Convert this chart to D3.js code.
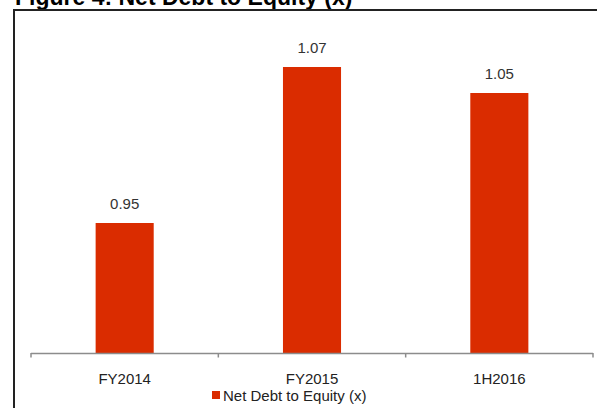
<!DOCTYPE html>
<html>
<head>
<meta charset="utf-8">
<script src="https://cdn.jsdelivr.net/npm/d3@7"></script>
<style>
  html, body { margin: 0; padding: 0; background: #fff; }
  svg { display: block; }
  text { font-family: "Liberation Sans", Arial, sans-serif; }
</style>
</head>
<body>
<script>
const categories = ["FY2014", "FY2015", "1H2016"];
const values = [0.95, 1.07, 1.05];
const valueLabels = ["0.95", "1.07", "1.05"];
const seriesName = "Net Debt to Equity (x)";
const titleText = "Figure 4: Net Debt to Equity (x)";
const yDomain = [0.85, 1.10];

const W = 597, H = 408;
const svg = d3.select("body").append("svg").attr("width", W).attr("height", H);

// title (cut off at top)
svg.append("text").attr("x", 15).attr("y", 5)
  .attr("font-size", 23).attr("font-weight", "bold").attr("fill", "#000")
  .text(titleText);

// frame
svg.append("rect").attr("x", 14).attr("y", 10).attr("width", 700).attr("height", 500)
  .attr("fill", "none").attr("stroke", "#222").attr("stroke-width", 2);

const x = d3.scaleBand().domain(categories).range([31, 593])
  .paddingInner(0.69).paddingOuter(0.345);
const y = d3.scaleLinear().domain(yDomain).range([353, 28]);

const color = "#DA2C00";

svg.selectAll("rect.bar").data(values).enter().append("rect")
  .attr("class", "bar")
  .attr("x", (d, i) => x(categories[i]))
  .attr("width", x.bandwidth())
  .attr("y", d => y(d))
  .attr("height", d => y(yDomain[0]) - y(d))
  .attr("fill", color);

svg.selectAll("text.val").data(values).enter().append("text")
  .attr("class", "val")
  .attr("x", (d, i) => x(categories[i]) + x.bandwidth() / 2)
  .attr("y", d => y(d) - 14)
  .attr("text-anchor", "middle").attr("font-size", 15).attr("fill", "#333")
  .text((d, i) => valueLabels[i]);

// x axis
const y0 = y(yDomain[0]);
svg.append("line").attr("x1", x.range()[0]).attr("x2", x.range()[1])
  .attr("y1", y0 + 0.5).attr("y2", y0 + 0.5)
  .attr("stroke", "#8c8c8c").attr("stroke-width", 1.5);
const tickXs = d3.range(categories.length + 1).map(i => x.range()[0] + i * x.step());
svg.selectAll("line.tick").data(tickXs).enter().append("line")
  .attr("class", "tick")
  .attr("x1", d => d).attr("x2", d => d)
  .attr("y1", y0).attr("y2", y0 + 4.5)
  .attr("stroke", "#8c8c8c").attr("stroke-width", 1.5);

svg.selectAll("text.cat").data(categories).enter().append("text")
  .attr("class", "cat")
  .attr("x", d => x(d) + x.bandwidth() / 2)
  .attr("y", 384)
  .attr("text-anchor", "middle").attr("font-size", 15).attr("fill", "#222")
  .text(d => d);

// legend
const lg = svg.append("g").attr("transform", "translate(212,0)");
lg.append("rect").attr("x", 0).attr("y", 391).attr("width", 8).attr("height", 8).attr("fill", color);
lg.append("text").attr("x", 11).attr("y", 401).attr("font-size", 15).attr("fill", "#222")
  .text(seriesName);
</script>
</body>
</html>
